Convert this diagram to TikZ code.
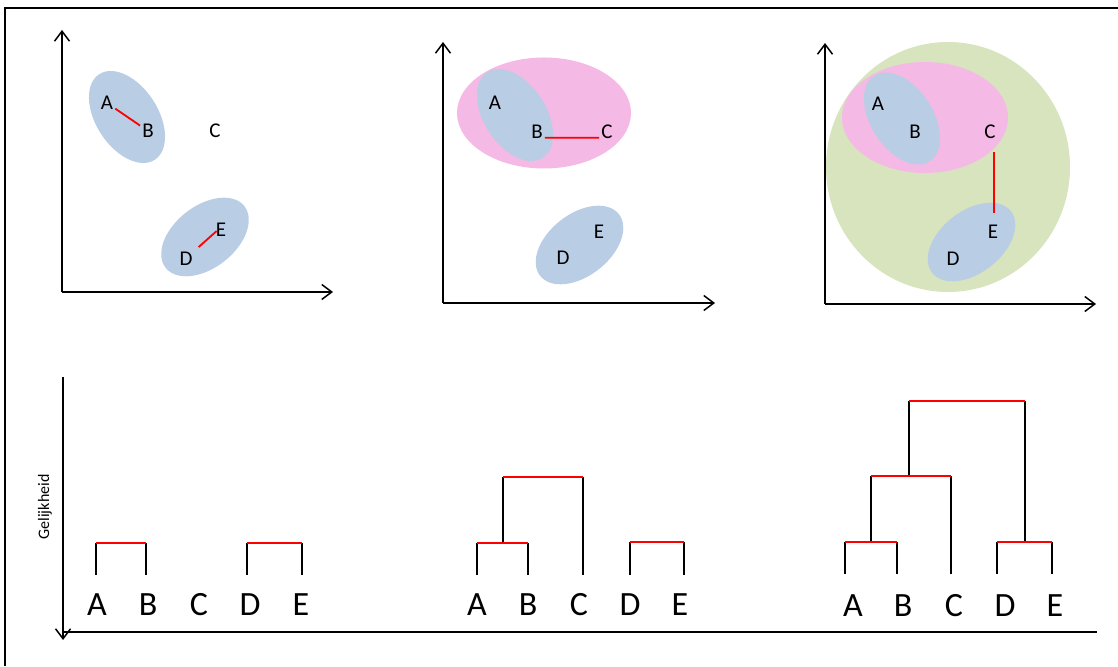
\documentclass[tikz,border=0pt]{standalone}
\usepackage{fontspec}
\setmainfont{Carlito}
\usetikzlibrary{arrows.meta}
\definecolor{cblue}{HTML}{B9CDE5}
\definecolor{cpink}{HTML}{F5B9E6}
\definecolor{cgreen}{HTML}{D7E4BD}
\definecolor{cred}{HTML}{FF0000}
\tikzset{
  axis/.style={line width=1.5pt, -{Straight Barb[length=10pt,width=15pt]}},
  lbl/.style={inner sep=2pt, font=\fontsize{21}{25}\selectfont},
  leaf/.style={inner sep=2pt, font=\fontsize{34}{40}\selectfont},
  link/.style={cred, line width=1.8pt},
  branch/.style={black, line width=1.8pt},
  blob/.style={fill=cblue},
}
\begin{document}
\begin{tikzpicture}[x=1pt,y=1pt]
\useasboundingbox (0,0) rectangle (1118,666);
% frame
\draw[line width=1.8pt] (1118,658) -- (5,658) -- (5,0);

% ---------- panel 1 ----------
\fill[blob] (127,549) ellipse[x radius=51, y radius=31, rotate=-57];
\fill[blob] (205,429) ellipse[x radius=50, y radius=31, rotate=38];
\coordinate (o1) at (62,374);
\draw[axis] (o1) -- (62,636);
\draw[axis] (o1) -- (333,374);
\node[lbl] (A1) at (107,563) {A};
\node[lbl] (B1) at (148,535) {B};
\node[lbl] (C1) at (215,535) {C};
\node[lbl] (D1) at (186,407) {D};
\node[lbl] (E1) at (221,436) {E};
\draw[link] (A1) -- (B1);
\draw[link] ([shift={(4,3)}]D1.north east) -- ([shift={(3,-1)}]E1.west);

% ---------- panel 2 ----------
\fill[cpink] (544,553) ellipse[x radius=87, y radius=55.5];
\fill[blob] (515,551) ellipse[x radius=51, y radius=31, rotate=-57];
\fill[blob] (579.5,421) ellipse[x radius=50, y radius=31, rotate=38];
\coordinate (o2) at (443,363);
\draw[axis] (o2) -- (443,624);
\draw[axis] (o2) -- (715,363);
\node[lbl] (A2) at (495,563) {A};
\node[lbl] (B2) at (537,534) {B};
\node[lbl] (C2) at (607,534) {C};
\node[lbl] (D2) at (563,408) {D};
\node[lbl] (E2) at (599,434) {E};
\draw[link] ([yshift=1pt]B2.base east) -- ([yshift=1pt]C2.base west);

% ---------- panel 3 ----------
\fill[cgreen] (948,499) ellipse[x radius=122, y radius=125];
\fill[cpink] (925,548.5) ellipse[x radius=83, y radius=55.5];
\fill[blob] (902,547.5) ellipse[x radius=51, y radius=31, rotate=-57];
\fill[blob] (971.5,424) ellipse[x radius=50, y radius=31, rotate=38];
\coordinate (o3) at (825,362);
\draw[axis] (o3) -- (825,623);
\draw[axis] (o3) -- (1096,362);
\node[lbl] (A3) at (878,562) {A};
\node[lbl] (B3) at (915,534) {B};
\node[lbl] (C3) at (990,534) {C};
\node[lbl] (D3) at (953,407) {D};
\node[lbl] (E3) at (993,434) {E};
\draw[link, shorten <=11pt, shorten >=10pt] ([xshift=1pt]E3.north |- C3.south) -- ([xshift=1pt]E3.north);

% ---------- dendrogram axes ----------
\coordinate (yo) at (63,289);
\draw[line width=1.5pt, -{Straight Barb[length=10pt,width=15pt]}] (yo) -- (63,26);
\draw[line width=1.5pt] (63,34) -- (1097,34);
\node[rotate=90, inner sep=0pt, font=\fontsize{16}{18}\selectfont] (gel) at (45,159) {Gelijkheid};

% ---------- dendrogram 1 ----------
\node[leaf] (dA1) at (97,61) {A};
\node[leaf] (dB1) at (148,61) {B};
\node[leaf] (dC1) at (199,61) {C};
\node[leaf] (dD1) at (250,61) {D};
\node[leaf] (dE1) at (301,61) {E};
\coordinate (la1) at (96,91);  \coordinate (lb1) at (146,91);
\coordinate (ld1) at (247,91); \coordinate (le1) at (302,91);
\coordinate (mab1) at (96,123); \coordinate (mab1r) at (146,123);
\coordinate (mde1) at (247,123); \coordinate (mde1r) at (302,123);
\draw[branch] (la1) -- (mab1) (lb1) -- (mab1r);
\draw[branch] (ld1) -- (mde1) (le1) -- (mde1r);
\draw[link] (mab1) -- (mab1r);
\draw[link] (mde1) -- (mde1r);

% ---------- dendrogram 2 ----------
\node[leaf] (dA2) at (477,61) {A};
\node[leaf] (dB2) at (528,61) {B};
\node[leaf] (dC2) at (579,61) {C};
\node[leaf] (dD2) at (630,61) {D};
\node[leaf] (dE2) at (680,61) {E};
\coordinate (la2) at (477,91); \coordinate (lb2) at (528,91);
\coordinate (lc2) at (583,91); \coordinate (ld2) at (630,91);
\coordinate (le2) at (684,91);
\coordinate (mab2l) at (477,123); \coordinate (mab2r) at (528,123);
\coordinate (mab2) at (503,123);
\coordinate (mabc2l) at (503,189); \coordinate (mabc2r) at (583,189);
\coordinate (mde2l) at (630,124); \coordinate (mde2r) at (684,124);
\draw[branch] (la2) -- (mab2l) (lb2) -- (mab2r);
\draw[branch] (mab2) -- (mabc2l) (lc2) -- (mabc2r);
\draw[branch] (ld2) -- (mde2l) (le2) -- (mde2r);
\draw[link] (mab2l) -- (mab2r);
\draw[link] (mabc2l) -- (mabc2r);
\draw[link] (mde2l) -- (mde2r);

% ---------- dendrogram 3 ----------
\node[leaf] (dA3) at (853,60) {A};
\node[leaf] (dB3) at (903,60) {B};
\node[leaf] (dC3) at (954,60) {C};
\node[leaf] (dD3) at (1005,60) {D};
\node[leaf] (dE3) at (1055,60) {E};
\coordinate (la3) at (845,92); \coordinate (lb3) at (897,92);
\coordinate (lc3) at (951,92); \coordinate (ld3) at (997,92);
\coordinate (le3) at (1052,92);
\coordinate (mab3l) at (845,124); \coordinate (mab3r) at (897,124);
\coordinate (mab3) at (871,124);
\coordinate (mabc3l) at (871,190); \coordinate (mabc3r) at (951,190);
\coordinate (mabc3) at (909,190);
\coordinate (mde3l) at (997,124); \coordinate (mde3r) at (1052,124);
\coordinate (mde3) at (1025,124);
\coordinate (top3l) at (909,265); \coordinate (top3r) at (1025,265);
\draw[branch] (la3) -- (mab3l) (lb3) -- (mab3r);
\draw[branch] (mab3) -- (mabc3l) (lc3) -- (mabc3r);
\draw[branch] (ld3) -- (mde3l) (le3) -- (mde3r);
\draw[branch] (mabc3) -- (top3l) (mde3) -- (top3r);
\draw[link] (mab3l) -- (mab3r);
\draw[link] (mabc3l) -- (mabc3r);
\draw[link] (mde3l) -- (mde3r);
\draw[link] (top3l) -- (top3r);
\end{tikzpicture}
\end{document}
